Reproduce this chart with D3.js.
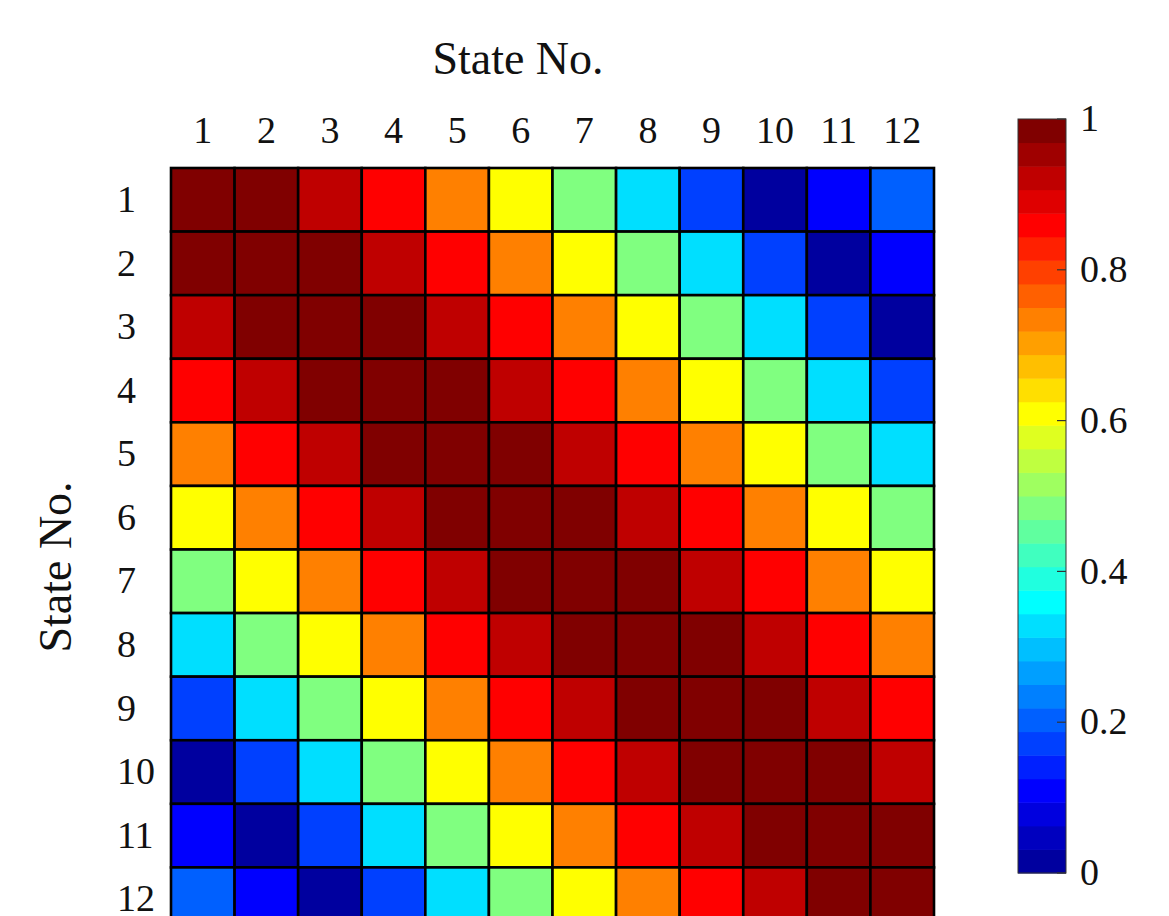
<!DOCTYPE html>
<html lang="en">
<head>
    <meta charset="UTF-8">
    <title>State No. heatmap</title>
    <script src="https://d3js.org/d3.v7.min.js"></script>
    <style>
        html, body { margin: 0; padding: 0; background: #fff; overflow: hidden; }
        #chart { width: 1169px; height: 916px; }
        text { font-family: "Liberation Serif", "Times New Roman", serif; fill: #111; }
    </style>
</head>
<body>
    <div id="chart"></div>
    <script>
        const width = 1169
        const height = 916

        // data
        const states = [1, 2, 3, 4, 5, 6, 7, 8, 9, 10, 11, 12]
        const corr = [
            [0.98, 0.98, 0.92, 0.85, 0.72, 0.61, 0.48, 0.33, 0.17, 0.02, 0.10, 0.20],
            [0.98, 0.98, 0.98, 0.92, 0.85, 0.72, 0.61, 0.48, 0.33, 0.17, 0.02, 0.10],
            [0.92, 0.98, 0.98, 0.98, 0.92, 0.85, 0.72, 0.61, 0.48, 0.33, 0.17, 0.02],
            [0.85, 0.92, 0.98, 0.98, 0.98, 0.92, 0.85, 0.72, 0.61, 0.48, 0.33, 0.17],
            [0.72, 0.85, 0.92, 0.98, 0.98, 0.98, 0.92, 0.85, 0.72, 0.61, 0.48, 0.33],
            [0.61, 0.72, 0.85, 0.92, 0.98, 0.98, 0.98, 0.92, 0.85, 0.72, 0.61, 0.48],
            [0.48, 0.61, 0.72, 0.85, 0.92, 0.98, 0.98, 0.98, 0.92, 0.85, 0.72, 0.61],
            [0.33, 0.48, 0.61, 0.72, 0.85, 0.92, 0.98, 0.98, 0.98, 0.92, 0.85, 0.72],
            [0.17, 0.33, 0.48, 0.61, 0.72, 0.85, 0.92, 0.98, 0.98, 0.98, 0.92, 0.85],
            [0.02, 0.17, 0.33, 0.48, 0.61, 0.72, 0.85, 0.92, 0.98, 0.98, 0.98, 0.92],
            [0.10, 0.02, 0.17, 0.33, 0.48, 0.61, 0.72, 0.85, 0.92, 0.98, 0.98, 0.98],
            [0.20, 0.10, 0.02, 0.17, 0.33, 0.48, 0.61, 0.72, 0.85, 0.92, 0.98, 0.98]
        ]
        const colorbarTicks = [0, 0.2, 0.4, 0.6, 0.8, 1]

        // matlab style jet colormap with m levels
        function jet(m) {
            const n = Math.ceil(m / 4)
            const u = []
            for (let i = 1; i <= n; i++) u.push(i / n)
            for (let i = 1; i < n; i++) u.push(1)
            for (let i = n; i >= 1; i--) u.push(i / n)
            const cols = d3.range(m).map(() => [0, 0, 0])
            const g0 = Math.ceil(n / 2) - (m % 4 === 1 ? 1 : 0)
            u.forEach((v, i) => {
                const g = g0 + i + 1
                const r = g + n
                const b = g - n
                if (g >= 1 && g <= m) cols[g - 1][1] = v
                if (r >= 1 && r <= m) cols[r - 1][0] = v
                if (b >= 1 && b <= m) cols[b - 1][2] = v
            })
            return cols.map(c => d3.rgb(c[0] * 255, c[1] * 255, c[2] * 255).formatHex())
        }
        const palette = jet(32)
        const color = d3.scaleQuantize().domain([0, 1]).range(palette)

        const svg = d3.select("#chart").append("svg")
            .attr("width", width)
            .attr("height", height)
            .attr("viewBox", [0, 0, width, height])

        const plotLeft = 171, plotTop = 168, plotSize = 763
        const x = d3.scaleBand().domain(states).range([plotLeft, plotLeft + plotSize])
        const y = d3.scaleBand().domain(states).range([plotTop, plotTop + plotSize])

        // cells
        const rows = svg.append("g").selectAll("g")
            .data(corr)
            .enter().append("g")
        rows.selectAll("rect")
            .data((d, i) => d.map((v, j) => ({ row: states[i], col: states[j], v: v })))
            .enter().append("rect")
            .attr("x", d => x(d.col))
            .attr("y", d => y(d.row))
            .attr("width", x.bandwidth())
            .attr("height", y.bandwidth())
            .attr("fill", d => color(d.v))
            .attr("stroke", "#000")
            .attr("stroke-width", 2.6)

        // axes
        const xAxis = svg.append("g")
            .attr("transform", `translate(0,${plotTop})`)
            .call(d3.axisTop(x).tickSize(0).tickPadding(25))
        xAxis.select(".domain").remove()
        xAxis.selectAll("text")
            .attr("font-size", 38)
            .attr("font-family", "Liberation Serif")
            .attr("fill", "#111")

        const yAxis = svg.append("g")
            .attr("transform", `translate(${plotLeft},0)`)
            .call(d3.axisLeft(y).tickSize(0))
        yAxis.select(".domain").remove()
        yAxis.selectAll("text")
            .attr("x", -54)
            .attr("text-anchor", "start")
            .attr("font-size", 38)
            .attr("font-family", "Liberation Serif")
            .attr("fill", "#111")

        svg.append("text")
            .attr("x", 518)
            .attr("y", 74)
            .attr("text-anchor", "middle")
            .attr("font-size", 46)
            .text("State No.")

        svg.append("text")
            .attr("transform", "translate(71,567) rotate(-90)")
            .attr("text-anchor", "middle")
            .attr("font-size", 46)
            .text("State No.")

        // colorbar
        const cbX = 1018, cbW = 48, cbTop = 119, cbBottom = 873
        const cy = d3.scaleLinear().domain([0, 1]).range([cbBottom, cbTop])
        const cb = svg.append("g")
        cb.selectAll("rect")
            .data(palette)
            .enter().append("rect")
            .attr("x", cbX)
            .attr("y", (d, i) => cy((i + 1) / palette.length))
            .attr("width", cbW)
            .attr("height", (d, i) => cy(i / palette.length) - cy((i + 1) / palette.length) + 0.5)
            .attr("fill", d => d)
        cb.append("rect")
            .attr("x", cbX)
            .attr("y", cbTop)
            .attr("width", cbW)
            .attr("height", cbBottom - cbTop)
            .attr("fill", "none")
            .attr("stroke", "#333")
            .attr("stroke-width", 1)
        cb.selectAll("line")
            .data(colorbarTicks)
            .enter().append("line")
            .attr("x1", cbX + cbW - 9)
            .attr("x2", cbX + cbW)
            .attr("y1", d => cy(d))
            .attr("y2", d => cy(d))
            .attr("stroke", "#333")
            .attr("stroke-width", 1.2)
        cb.selectAll("text")
            .data(colorbarTicks)
            .enter().append("text")
            .attr("x", 1080)
            .attr("y", d => cy(d))
            .attr("dy", "0.32em")
            .attr("font-size", 38)
            .text(d => d3.format("~g")(d))
    </script>
</body>
</html>
